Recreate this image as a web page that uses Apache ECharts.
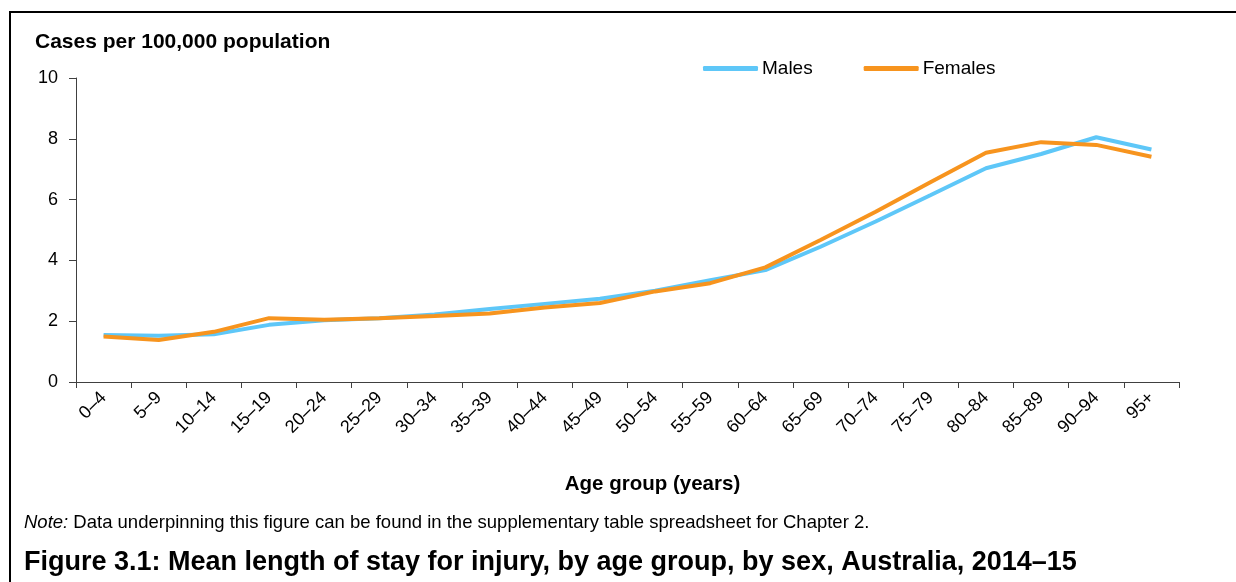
<!DOCTYPE html>
<html>
<head>
<meta charset="utf-8">
<script src="https://cdn.jsdelivr.net/npm/echarts@6/dist/echarts.min.js"></script>
<style>
  html, body { margin: 0; padding: 0; background: #fff; }
  #main { width: 1236px; height: 582px; }
</style>
</head>
<body>
<div id="main"></div>
<script>
// age groups along the x axis
const ageGroups = ['0–4', '5–9', '10–14', '15–19', '20–24', '25–29', '30–34', '35–39', '40–44', '45–49',
  '50–54', '55–59', '60–64', '65–69', '70–74', '75–79', '80–84', '85–89', '90–94', '95+'];
// values
const males = [1.55, 1.52, 1.57, 1.88, 2.03, 2.1, 2.22, 2.4, 2.57, 2.74,
  3.0, 3.35, 3.68, 4.45, 5.28, 6.15, 7.03, 7.5, 8.05, 7.65];
const females = [1.5, 1.38, 1.65, 2.1, 2.05, 2.1, 2.17, 2.25, 2.45, 2.6,
  2.98, 3.25, 3.77, 4.67, 5.6, 6.58, 7.54, 7.89, 7.8, 7.41];
const yTicks = { min: 0, max: 10, interval: 2 };

const FONT = 'Liberation Sans, Arial, sans-serif';
const axisColor = '#404040';

const chart = echarts.init(document.getElementById('main'));
const option = {
  animation: false,
  textStyle: { fontFamily: FONT },
  legend: {
    data: [{ name: 'Males', icon: 'roundRect' }, { name: 'Females', icon: 'roundRect' }],
    left: 703, top: 59, padding: 0,
    itemWidth: 55, itemHeight: 5, itemGap: 51,
    textStyle: { fontFamily: FONT, fontSize: 19, color: '#000', padding: [0, 0, 0, -1] }
  },
  grid: { left: 76, right: 57, top: 78, bottom: 200 },
  xAxis: {
    type: 'category',
    data: ageGroups,
    boundaryGap: true,
    name: 'Age group (years)',
    nameLocation: 'middle',
    nameGap: 92,
    nameTextStyle: { fontFamily: FONT, fontSize: 20.5, fontWeight: 'bold', color: '#000', padding: [0, 0, 0, 50] },
    axisLine: { lineStyle: { color: axisColor, width: 1 } },
    axisTick: { show: true, length: 6, lineStyle: { color: axisColor } },
    axisLabel: { interval: 0, rotate: 45, fontSize: 18, color: '#000', margin: 13, fontFamily: FONT }
  },
  yAxis: {
    type: 'value',
    min: yTicks.min, max: yTicks.max, interval: yTicks.interval,
    splitLine: { show: false },
    axisLine: { show: true, lineStyle: { color: axisColor, width: 1 } },
    axisTick: { show: true, length: 7, lineStyle: { color: axisColor } },
    axisLabel: { fontSize: 18, color: '#000', margin: 18, fontFamily: FONT }
  },
  series: [
    {
      name: 'Males', type: 'line', data: males,
      symbol: 'none', color: '#5EC7F8',
      lineStyle: { width: 4, color: '#5EC7F8' }
    },
    {
      name: 'Females', type: 'line', data: females,
      symbol: 'none', color: '#F7941E',
      lineStyle: { width: 4, color: '#F7941E' }
    }
  ],
  graphic: [
    { type: 'line', shape: { x1: 10, y1: 12, x2: 1236, y2: 12 }, style: { stroke: '#000', lineWidth: 2 } },
    { type: 'line', shape: { x1: 10, y1: 11, x2: 10, y2: 582 }, style: { stroke: '#000', lineWidth: 2 } },
    {
      type: 'text', x: 35, y: 42,
      style: {
        text: 'Cases per 100,000 population',
        fontSize: 21, fontWeight: 'bold', fontFamily: FONT, fill: '#000',
        verticalAlign: 'middle'
      }
    },
    {
      type: 'text', x: 24, y: 523,
      style: {
        text: '{i|Note:} Data underpinning this figure can be found in the supplementary table spreadsheet for Chapter 2.',
        rich: {
          i: { fontStyle: 'italic', fontSize: 18.5, fontFamily: FONT, fill: '#000' }
        },
        fontSize: 18.5, fontFamily: FONT, fill: '#000',
        verticalAlign: 'middle'
      }
    },
    {
      type: 'text', x: 24, y: 563,
      style: {
        text: 'Figure 3.1: Mean length of stay for injury, by age group, by sex, Australia, 2014–15',
        fontSize: 27, fontWeight: 'bold', fontFamily: FONT, fill: '#000',
        verticalAlign: 'middle'
      }
    }
  ]
};
chart.setOption(option);
</script>
</body>
</html>
